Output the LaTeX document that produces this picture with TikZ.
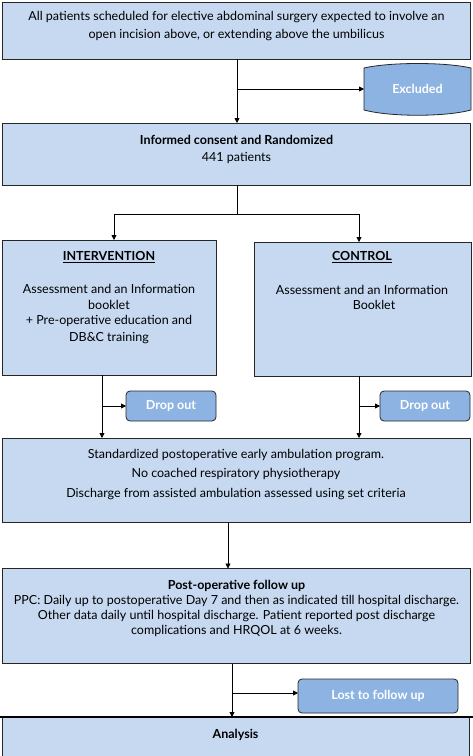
\documentclass[tikz,border=0pt]{standalone}
\usepackage{fontspec}
\setmainfont{Lato}
\usetikzlibrary{arrows.meta}
\definecolor{boxfill}{HTML}{C6D9F1}
\definecolor{darkfill}{HTML}{8DB3E2}
\definecolor{edgecol}{HTML}{262626}
\newcommand{\fsz}{\fontsize{12.5}{14}\selectfont}
\tikzset{
  box/.style={draw=edgecol, fill=boxfill, line width=1pt, inner sep=0pt, outer sep=0pt},
  sidebox/.style={draw=edgecol, fill=darkfill, line width=0.8pt, rounded corners=4pt, inner sep=0pt, outer sep=0pt, text=white, font=\fsz\bfseries},
  txt/.style={font=\fsz, align=center, inner sep=0pt},
  btxt/.style={font=\fsz\bfseries, align=center, inner sep=0pt},
  arr/.style={-{Triangle[length=5pt,width=5pt]}, line width=0.8pt, draw=black},
  ln/.style={line width=0.8pt, draw=black},
}
\begin{document}
\begin{tikzpicture}[x=1pt,y=-1pt]
\useasboundingbox (0,0) rectangle (473,756);
% boxes
\node[box, minimum width=468pt, minimum height=57pt] (top) at (236,30.5) {};
\node[box, minimum width=468pt, minimum height=62pt] (rand) at (236,154) {};
\node[box, minimum width=214pt, minimum height=135pt] (interv) at (109,307.5) {};
\node[box, minimum width=217pt, minimum height=134pt] (ctrl) at (362.5,309) {};
\node[box, minimum width=468pt, minimum height=84pt] (std) at (236,480) {};
\node[box, minimum width=468pt, minimum height=95pt] (post) at (236,616) {};
\node[box, minimum width=467pt, minimum height=39pt] (ana) at (235.5,736.5) {};
\draw[line width=2pt] (0,717) -- (473,717);
% excluded (bulged shape)
\node[inner sep=0pt, outer sep=0pt, minimum width=107pt, minimum height=42pt] (excl) at (417.5,89) {};
\filldraw[fill=darkfill, draw=edgecol, line width=0.8pt] (364,68) .. controls (390,62) and (445,62) .. (471,68) -- (471,110) .. controls (445,117) and (390,117) .. (364,110) -- cycle;
\node[text=white, font=\fsz\bfseries] (excltxt) at (417.5,89) {Excluded};
% side boxes
\node[sidebox, minimum width=90pt, minimum height=30pt] (drop1) at (171,406) {Drop out};
\node[sidebox, minimum width=90pt, minimum height=30pt] (drop2) at (425,406) {Drop out};
\node[sidebox, minimum width=160pt, minimum height=34pt] (lost) at (378,696) {Lost to follow up};
% texts
\node[txt] (ttop1) at (236.5,17) {All patients scheduled for elective abdominal surgery expected to involve an};
\node[txt] (ttop2) at (236.5,35) {open incision above, or extending above the umbilicus};
\node[btxt] (trand1) at (236.5,140) {Informed consent and Randomized};
\node[txt] (trand2) at (236.5,158) {441 patients};
\node[btxt] (tint0) at (109,257) {\underline{INTERVENTION}};
\node[txt] (tint1) at (109,289) {Assessment and an Information};
\node[txt] (tint2) at (109,305) {booklet};
\node[txt] (tint3) at (109,321) {+ Pre-operative education and};
\node[txt] (tint4) at (109,338) {DB\&C training};
\node[btxt] (tctl0) at (362,257) {\underline{CONTROL}};
\node[txt] (tctl1) at (362,290) {Assessment and an Information};
\node[txt] (tctl2) at (374,305) {Booklet};
\node[txt] (tstd1) at (236,455) {Standardized postoperative early ambulation program.};
\node[txt] (tstd2) at (236,474) {No coached respiratory physiotherapy};
\node[txt] (tstd3) at (236,494) {Discharge from assisted ambulation assessed using set criteria};
\node[btxt] (tpost0) at (236.5,586) {Post-operative follow up};
\node[txt] (tpost1) at (236.5,601) {PPC: Daily up to postoperative Day 7 and then as indicated till hospital discharge.};
\node[txt] (tpost2) at (236.5,616) {Other data daily until hospital discharge. Patient reported post discharge};
\node[txt] (tpost3) at (236.5,631) {complications and HRQOL at 6 weeks.};
\node[btxt] (tana) at (235.5,735) {Analysis};
% connectors
\coordinate (c1) at (237,89);
\draw[arr] (top.south -| c1) -- (rand.north -| c1);
\draw[arr] (c1) -- (excl.west);
\coordinate (s) at (237,214);
\coordinate (sl) at (114,214);
\coordinate (sr) at (359,214);
\draw[ln] (rand.south -| s) -- (s);
\draw[arr] (s) -| (interv.north -| sl);
\draw[arr] (s) -| (ctrl.north -| sr);
\coordinate (d1) at (102,406);
\draw[arr] (interv.south -| d1) -- (std.north -| d1);
\draw[arr] (d1) -- (drop1.west);
\coordinate (d2) at (359,406);
\draw[arr] (ctrl.south -| d2) -- (std.north -| d2);
\draw[arr] (d2) -- (drop2.west);
\coordinate (m) at (228,545);
\draw[arr] (std.south -| m) -- (post.north -| m);
\coordinate (d3) at (232,693);
\draw[arr] (post.south -| d3) -- (ana.north -| d3);
\draw[arr] (d3) -- (d3 -| lost.west);
\end{tikzpicture}
\end{document}
